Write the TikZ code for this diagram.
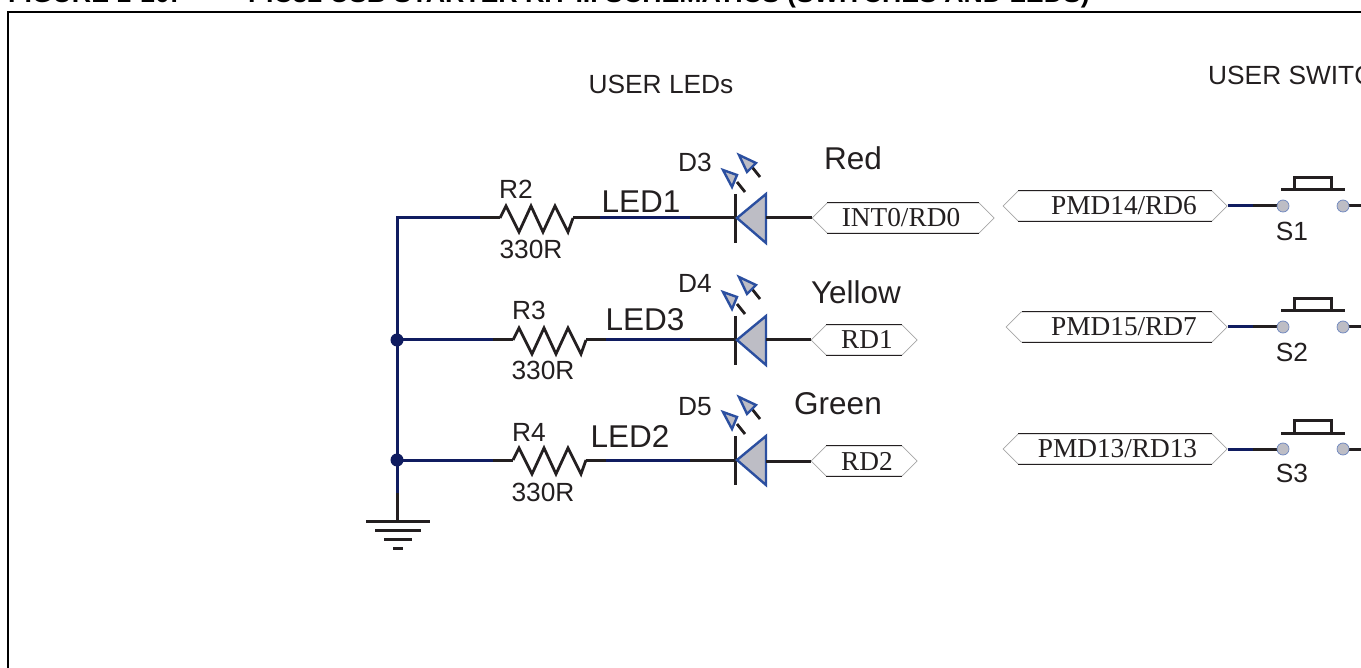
\documentclass[tikz,border=0pt]{standalone}
\usepackage{fontspec}
\setmainfont{Liberation Sans}
\newfontfamily\tagfont{Liberation Serif}
\usetikzlibrary{shapes.symbols}
\usetikzlibrary{calc}
\usetikzlibrary{positioning}
\definecolor{netnavy}{HTML}{101C60}
\definecolor{partblue}{HTML}{2B4FA0}
\definecolor{partgray}{HTML}{BDBDC5}
\definecolor{inkblack}{HTML}{231F20}
\tikzset{
  net/.style={netnavy, line width=3pt},
  pin/.style={inkblack, line width=3pt},
  zig/.style={inkblack, line width=2.8pt},
  lbl/.style={inkblack, inner sep=0pt, font=\fontsize{26.3}{28}\selectfont},
  biglbl/.style={inkblack, inner sep=0pt, font=\fontsize{31.5}{33}\selectfont},
  nettag/.style={shape=signal, signal to=east and west, signal pointer angle=90,
    draw=gray!70, line width=0.7pt, inner sep=0pt, minimum height=30pt, text=inkblack,
    font=\tagfont\fontsize{27.3}{28}\selectfont},
  tagedge/.style={inkblack, line width=0.8pt},
  junct/.style={shape=circle, fill=netnavy, inner sep=0pt, minimum size=13pt},
  term/.style={shape=circle, fill=partgray, draw=partblue!70, line width=0.7pt, inner sep=0pt, minimum size=12pt},
  ressym/.pic={
    \draw[zig, line join=miter] (0,0) -- (6,-12) -- (19,14) -- (31,-12) -- (43,14) -- (55,-12) -- (68,14) -- (73,0);
  },
  ledsym/.pic={
    \draw[pin] (0,-24) -- (0,25);
    \draw[partblue, fill=partgray, line width=2.4pt] (2,0) -- (31,-24) -- (31,25) -- cycle;
    \draw[zig] (10,-26) -- (2,-36);
    \draw[partblue, fill=partgray, line width=2.4pt] (-12,-48) -- (2,-43) -- (-3,-31) -- cycle;
    \draw[zig] (25,-41) -- (17,-51);
    \draw[partblue, fill=partgray, line width=2.4pt] (4,-63) -- (21,-55) -- (12,-46) -- cycle;
  },
  swsym/.pic={
    \draw[pin] (-2,-16) -- (62,-16);
    \draw[pin] (11,-16) -- (11,-28) -- (48,-28) -- (48,-16);
  },
}

\begin{document}
\begin{tikzpicture}[x=1pt, y=-1pt]
\useasboundingbox (0,0) rectangle (1361,668);
\clip (0,0) rectangle (1361,668);
\draw[black, line width=2.5pt] (8,700) -- (8,12) -- (1400,12);
\node[anchor=base west, inner sep=0pt, font=\bfseries\fontsize{26.7}{28}\selectfont] (figno) at (8,3) {FIGURE 1-10:};
\node[anchor=base west, inner sep=0pt, font=\bfseries\fontsize{26.7}{28}\selectfont] (figtitle) at (248,3) {PIC32 USB STARTER KIT III SCHEMATICS (SWITCHES AND LEDS)};
\node[lbl] (ledtitle) at (661,84) {USER LEDs};
\node[lbl, anchor=west] (swtitle) at (1208,75) {USER SWITC};

% LED rows
\draw[net] (500,218) -- (397,218) -- (397,493);
\draw[net] (397,340) -- (513,340);
\draw[net] (397,460) -- (513,460);
\draw[pin] (480,218) -- (500,218);
\draw[pin] (493,340) -- (513,340);
\draw[pin] (493,460) -- (513,460);
\draw[net] (573,218) -- (735,218);
\draw[net] (586,340) -- (735,340);
\draw[net] (586,460) -- (735,460);
\draw[pin] (573,218) -- (600,218);
\draw[pin] (586,340) -- (606,340);
\draw[pin] (586,460) -- (606,460);
\draw[pin] (690,218) -- (735,218);
\draw[pin] (690,340) -- (735,340);
\draw[pin] (690,460) -- (735,460);
\pic (r2) at (500,218) {ressym};
\pic (r3) at (513,340) {ressym};
\pic (r4) at (513,460) {ressym};
\pic (d3) at (735,218) {ledsym};
\pic (d4) at (735,340) {ledsym};
\pic (d5) at (735,460) {ledsym};
\node[lbl] (r2lbl) at (516,189) {R2};
\node[lbl] (r2val) at (531,249) {330R};
\node[lbl] (r3lbl) at (529,310) {R3};
\node[lbl] (r3val) at (543,370) {330R};
\node[lbl] (r4lbl) at (529,432) {R4};
\node[lbl] (r4val) at (543,492) {330R};
\node[biglbl] (led1) at (641,202) {LED1};
\node[biglbl] (led3) at (645,320) {LED3};
\node[biglbl] (led2) at (630,437) {LED2};
\node[lbl] (d3lbl) at (695,162) {D3};
\node[lbl] (d4lbl) at (695,283) {D4};
\node[lbl] (d5lbl) at (695,407) {D5};
\node[biglbl] (red) at (853,158) {Red};
\node[biglbl] (yellow) at (856,292) {Yellow};
\node[biglbl] (green) at (838,404) {Green};

\node[nettag, minimum width=182pt] (int0) at (903,218) {\hspace*{-4pt}INT0/RD0};
\node[nettag, minimum width=106pt] (rd1) at (864,340) {\hspace*{6pt}RD1};
\node[nettag, minimum width=106pt] (rd2) at (864,461) {\hspace*{6pt}RD2};
\draw[tagedge] ([xshift=-76pt]int0.north) -- ([xshift=76pt]int0.north);
\draw[tagedge] ([xshift=-76pt]int0.south) -- ([xshift=76pt]int0.south);
\draw[tagedge] ([xshift=-38pt]rd1.north) -- ([xshift=38pt]rd1.north);
\draw[tagedge] ([xshift=-38pt]rd1.south) -- ([xshift=38pt]rd1.south);
\draw[tagedge] ([xshift=-38pt]rd2.north) -- ([xshift=38pt]rd2.north);
\draw[tagedge] ([xshift=-38pt]rd2.south) -- ([xshift=38pt]rd2.south);
\draw[pin] (766,218) -- (int0.west);
\draw[pin] (766,340) -- (rd1.west);
\draw[pin] (766,461) -- (rd2.west);

\node[junct] (rail2) at (397,340) {};
\node[junct] (rail3) at (397,460) {};

% ground
\coordinate (gnd) at (397,521);
\draw[pin] (397,493) -- (gnd);
\draw[pin] (366,521) -- (430,521);
\draw[pin] (375,530) -- (421,530);
\draw[pin] (384,539) -- (412,539);
\draw[pin] (393,548) -- (403,548);

% switches
\node[nettag, minimum width=224pt] (rd6) at (1115,206) {\hspace*{18pt}PMD14/RD6};
\node[nettag, minimum width=221pt] (rd7) at (1116.5,327) {\hspace*{15pt}PMD15/RD7};
\node[nettag, minimum width=224pt] (rd13) at (1115,449) {\hspace*{5pt}PMD13/RD13};
\draw[tagedge] ([xshift=-97pt]rd6.north) -- ([xshift=97pt]rd6.north);
\draw[tagedge] ([xshift=-97pt]rd6.south) -- ([xshift=97pt]rd6.south);
\draw[tagedge] ([xshift=-95pt]rd7.north) -- ([xshift=95pt]rd7.north);
\draw[tagedge] ([xshift=-95pt]rd7.south) -- ([xshift=95pt]rd7.south);
\draw[tagedge] ([xshift=-97pt]rd13.north) -- ([xshift=97pt]rd13.north);
\draw[tagedge] ([xshift=-97pt]rd13.south) -- ([xshift=97pt]rd13.south);
\coordinate (edge1) at (1361,206);
\coordinate (edge2) at (1361,327);
\coordinate (edge3) at (1361,449);
\draw[pin] (1253,206) -- (1283,206);
\draw[pin] (1253,327) -- (1283,327);
\draw[pin] (1253,449) -- (1283,449);
\draw[net] (rd6.east) -- (1253,206);
\draw[net] (rd7.east) -- (1253,327);
\draw[net] (rd13.east) -- (1253,449);
\draw[pin] (1343,206) -- (edge1);
\draw[pin] (1343,327) -- (edge2);
\draw[pin] (1343,449) -- (edge3);
\node[term] (s1a) at (1283,206) {};
\node[term] (s1b) at (1343,206) {};
\node[term] (s2a) at (1283,327) {};
\node[term] (s2b) at (1343,327) {};
\node[term] (s3a) at (1283,449) {};
\node[term] (s3b) at (1343,449) {};
\pic (s1) at (1283,206) {swsym};
\pic (s2) at (1283,327) {swsym};
\pic (s3) at (1283,449) {swsym};
\node[lbl] (s1lbl) at (1292,231) {S1};
\node[lbl] (s2lbl) at (1292,352) {S2};
\node[lbl] (s3lbl) at (1292,473) {S3};
\end{tikzpicture}
\end{document}
